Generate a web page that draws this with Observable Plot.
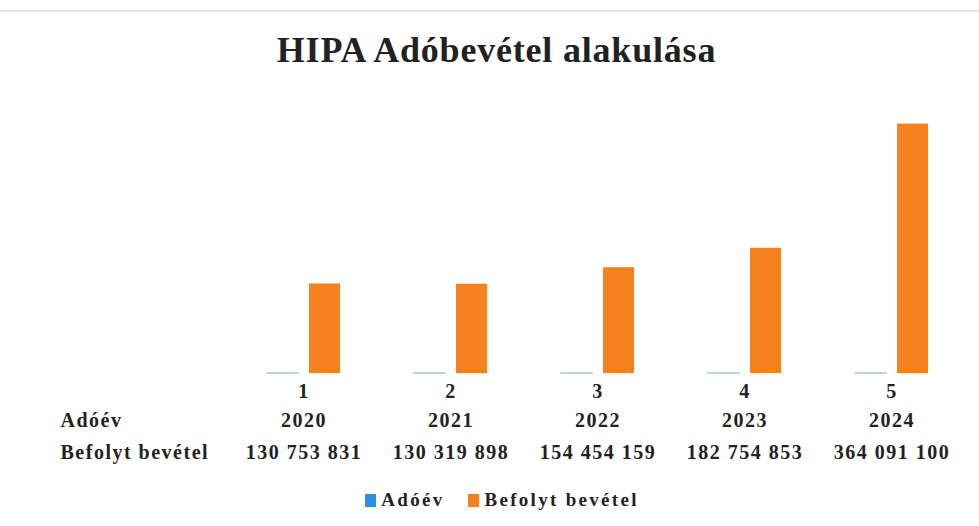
<!DOCTYPE html>
<html>
<head>
<meta charset="utf-8">
<script src="https://cdn.jsdelivr.net/npm/d3@7"></script>
<script src="https://cdn.jsdelivr.net/npm/@observablehq/plot@0.6"></script>
<style>
  html, body { margin: 0; padding: 0; background: #fff; }
  body { width: 979px; height: 526px; overflow: hidden; position: relative;
         font-family: "Liberation Serif", "Times New Roman", serif; color: #222; }
  .topline { position: absolute; left: 0; top: 10px; width: 979px; height: 2px; background: #e2e2e2; }
  #title { height: 60px; padding-top: 20px; line-height: 60px; text-align: center;
           font-size: 36px; font-weight: bold; color: #222; letter-spacing: 0.8px; padding-left: 14px; box-sizing: content-box; }
  #legend { height: 56px; box-sizing: border-box; padding-top: 19px; padding-left: 25px;
            text-align: center; font-size: 19px; font-weight: bold; letter-spacing: 2.3px; line-height: 22px; }
  #legend span.item { display: inline-block; margin: 0 12px; }
  #legend span.sw { display: inline-block; width: 11px; height: 13px; margin-right: 5px; vertical-align: -1px; }
</style>
</head>
<body>
<div class="topline"></div>
<div id="title">HIPA Adóbevétel alakulása</div>
<div id="chart"></div>
<div id="legend"></div>
<script>
const categories = [1, 2, 3, 4, 5];
const years = [2020, 2021, 2022, 2023, 2024];
const revenue = [130753831, 130319898, 154454159, 182754853, 364091100];
const seriesNames = ["Adóév", "Befolyt bevétel"];
const seriesColors = ["#2f8fdf", "#f5821f"];

const fmt = v => d3.format(",")(v).replace(/,/g, " ");

const bars = categories.flatMap((c, i) => [
  {cat: c, series: seriesNames[0], value: years[i]},
  {cat: c, series: seriesNames[1], value: revenue[i]}
]);
const tableCells = categories.flatMap((c, i) => [
  {cat: c, row: 0, text: String(years[i])},
  {cat: c, row: 1, text: fmt(revenue[i])}
]);
const rowLabels = [
  {cat: categories[0], row: 0, text: seriesNames[0]},
  {cat: categories[0], row: 1, text: seriesNames[1]}
];
const rowDy = [53, 85];

const chart = Plot.plot({
  width: 979,
  height: 390,
  marginTop: 19,
  marginBottom: 97,
  marginLeft: 230,
  marginRight: 14,
  style: {fontFamily: "'Liberation Serif', 'Times New Roman', serif", fontSize: "20px", fontWeight: "bold", color: "#222", background: "transparent", letterSpacing: "1.5px"},
  fx: {domain: categories, padding: 0, axis: "bottom", tickSize: 0, tickPadding: 10, label: null},
  x: {domain: seriesNames, axis: null, paddingInner: 0.26, paddingOuter: 0.88},
  y: {domain: [0, 400e6], axis: null},
  marks: [
    Plot.barY(bars.filter(d => d.series === seriesNames[0]), {fx: "cat", x: "series", y: "value", fill: "#a9c6dd", stroke: "#a9c6dd", strokeWidth: 1.5}),
    Plot.barY(bars.filter(d => d.series === seriesNames[1]), {fx: "cat", x: "series", y: "value", fill: seriesColors[1]}),
    Plot.text(tableCells.filter(d => d.row === 0), {fx: "cat", text: "text", frameAnchor: "bottom", dy: rowDy[0], fill: "#222"}),
    Plot.text(tableCells.filter(d => d.row === 1), {fx: "cat", text: "text", frameAnchor: "bottom", dy: rowDy[1], fill: "#222"}),
    Plot.text(rowLabels.filter(d => d.row === 0), {fx: "cat", text: "text", frameAnchor: "bottom-left", textAnchor: "start", dx: -170, dy: rowDy[0], fill: "#222"}),
    Plot.text(rowLabels.filter(d => d.row === 1), {fx: "cat", text: "text", frameAnchor: "bottom-left", textAnchor: "start", dx: -170, dy: rowDy[1], fill: "#222"})
  ]
});
document.getElementById("chart").appendChild(chart);

const legend = document.getElementById("legend");
seriesNames.forEach((name, i) => {
  const item = document.createElement("span");
  item.className = "item";
  const sw = document.createElement("span");
  sw.className = "sw";
  sw.style.background = seriesColors[i];
  item.appendChild(sw);
  item.appendChild(document.createTextNode(name));
  legend.appendChild(item);
});
</script>
</body>
</html>
